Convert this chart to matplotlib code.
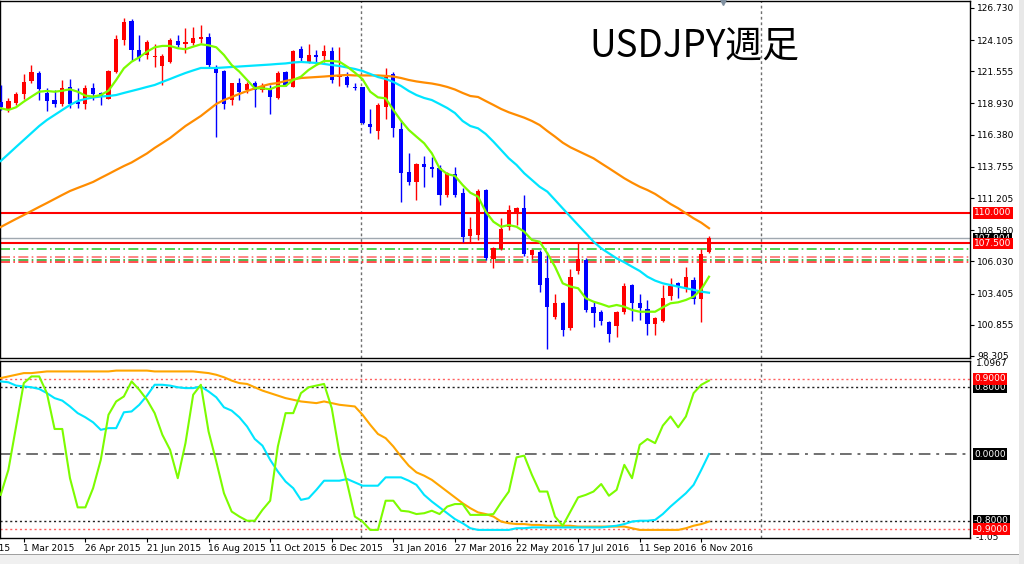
import numpy as np
import matplotlib
matplotlib.use("Agg")
import matplotlib.pyplot as plt
from matplotlib import transforms
from matplotlib.patches import Rectangle

plt.rcParams['font.family'] = ['DejaVu Sans', 'Noto Sans CJK JP']

# weekly USDJPY bars, 8 Feb 2015 .. 13 Nov 2016
opens = [119.05, 118.48, 118.99, 119.70, 120.79, 121.45, 119.76, 119.21, 118.86, 120.30,
         119.05, 118.86, 120.22, 119.76, 119.32, 121.53, 124.12, 125.67, 123.30, 122.89,
         122.73, 122.02, 122.34, 124.06, 123.76, 123.85, 124.17, 124.34, 121.80, 121.61,
         119.21, 120.58, 120.03, 120.63, 120.03, 120.17, 119.40, 121.53, 120.30, 123.36,
         122.29, 122.89, 122.81, 123.22, 121.12, 121.07, 120.30, 120.25, 117.25, 116.71,
         118.62, 121.34, 116.82, 113.36, 112.51, 114.00, 113.77, 113.64, 111.45, 113.17,
         111.64, 108.13, 108.18, 111.86, 106.20, 107.02, 108.82, 110.09, 110.42, 106.55,
         106.82, 104.70, 101.51, 102.61, 100.57, 105.27, 106.15, 102.28, 101.93, 101.11,
         100.76, 101.92, 104.10, 102.61, 102.12, 100.92, 101.19, 103.21, 104.29, 103.75,
         104.51, 103.00, 106.83]
highs = [120.44, 119.35, 119.89, 121.34, 122.05, 121.61, 120.17, 120.00, 120.85, 120.93,
         120.20, 120.44, 120.58, 119.89, 121.65, 124.52, 125.89, 125.85, 124.52, 124.12,
         123.79, 123.00, 124.26, 124.52, 125.07, 125.15, 125.34, 124.66, 122.07, 121.67,
         120.63, 121.00, 120.71, 120.77, 120.58, 120.44, 121.58, 121.58, 123.30, 123.63,
         123.79, 123.30, 123.71, 123.52, 123.57, 121.53, 120.58, 120.30, 118.46, 118.95,
         121.80, 121.53, 117.58, 114.86, 114.05, 114.64, 114.59, 113.91, 113.36, 113.77,
         112.00, 109.68, 111.92, 111.92, 107.18, 109.55, 110.64, 110.45, 111.45, 107.02,
         106.96, 106.82, 103.37, 102.74, 105.40, 107.56, 106.28, 102.74, 102.06, 101.19,
         101.98, 104.24, 104.19, 103.37, 102.88, 101.51, 104.10, 104.65, 104.37, 105.57,
         104.78, 107.02, 108.10]
lows = [118.40, 118.26, 118.81, 119.32, 120.58, 119.21, 118.32, 118.67, 118.73, 118.54,
        118.56, 118.46, 119.21, 118.81, 119.30, 121.45, 123.71, 122.43, 122.43, 122.54,
        121.94, 120.44, 122.21, 123.57, 123.03, 123.71, 123.85, 121.94, 116.17, 118.46,
        118.81, 119.21, 119.76, 118.67, 119.89, 118.07, 119.30, 120.36, 120.25, 122.34,
        122.21, 122.21, 122.34, 120.63, 120.36, 120.30, 120.03, 117.25, 116.54, 116.00,
        117.64, 116.17, 110.91, 112.27, 111.05, 112.13, 112.95, 110.64, 111.32, 111.32,
        107.64, 107.64, 107.78, 106.14, 105.47, 106.96, 108.60, 109.00, 106.47, 106.20,
        103.56, 98.90, 101.30, 99.94, 100.40, 105.00, 101.93, 100.65, 100.84, 99.47,
        99.88, 101.73, 101.19, 101.25, 100.02, 100.02, 101.11, 102.88, 103.01, 103.56,
        102.55, 101.11, 106.74]
closes = [118.64, 119.16, 119.68, 120.71, 121.53, 120.09, 119.16, 118.86, 120.22, 118.86,
          118.90, 120.17, 119.70, 119.48, 121.58, 124.17, 125.61, 123.30, 122.62, 123.93,
          122.81, 122.81, 124.12, 123.71, 123.98, 124.26, 124.34, 122.07, 121.40, 118.89,
          120.58, 119.89, 120.50, 120.03, 120.36, 119.48, 121.45, 120.44, 123.24, 122.62,
          122.89, 122.75, 123.22, 120.85, 121.26, 120.44, 120.17, 117.36, 116.98, 118.81,
          121.12, 116.90, 113.23, 112.54, 114.00, 113.77, 113.60, 111.45, 113.23, 111.45,
          108.05, 108.68, 111.78, 106.28, 107.10, 108.65, 110.23, 110.37, 106.64, 106.96,
          104.10, 102.33, 102.61, 100.43, 104.78, 106.20, 102.06, 101.79, 101.19, 100.10,
          101.86, 104.02, 102.61, 102.20, 100.92, 101.43, 103.02, 104.03, 103.91, 104.75,
          103.00, 106.64, 107.92]

# moving averages
ma_green = [118.54, 118.40, 118.62, 119.08, 119.49, 119.89, 119.95, 119.89, 119.97, 120.09,
            119.89, 119.57, 119.49, 119.62, 119.97, 120.85, 121.80, 122.34, 122.70, 123.16,
            123.52, 123.63, 123.63, 123.44, 123.36, 123.57, 123.76, 123.68, 123.52, 122.89,
            122.07, 121.53, 120.85, 120.17, 120.17, 120.09, 120.36, 120.36, 120.85, 121.12,
            121.67, 122.07, 122.40, 122.40, 122.34, 121.94, 121.45, 120.91, 119.89, 119.43,
            119.35, 118.40, 117.52, 116.77, 116.22, 115.68, 114.86, 113.64, 113.17, 113.01,
            112.27, 111.64, 111.32, 110.09, 109.27, 108.86, 109.00, 108.86, 108.46, 107.78,
            107.64, 106.69, 105.60, 104.24, 103.97, 103.84, 103.02, 102.74, 102.55, 102.33,
            102.47, 102.33, 102.06, 101.92, 101.92, 101.92, 102.28, 102.61, 102.69, 102.88,
            103.15, 103.75, 104.78]
ma_cyan = [114.23, 114.80, 115.38, 115.95, 116.52, 117.09, 117.58, 117.99, 118.40, 118.81,
           119.13, 119.30, 119.42, 119.50, 119.54, 119.62, 119.79, 119.95, 120.11, 120.28,
           120.44, 120.69, 120.93, 121.18, 121.42, 121.63, 121.83, 121.83, 121.83, 121.87,
           121.91, 121.95, 121.99, 122.03, 122.07, 122.11, 122.16, 122.20, 122.28, 122.32,
           122.28, 122.24, 122.16, 122.07, 121.99, 121.87, 121.75, 121.58, 121.34, 121.09,
           120.93, 120.69, 120.36, 119.95, 119.62, 119.38, 119.21, 118.89, 118.56, 118.15,
           117.50, 117.09, 116.90, 116.44, 115.81, 115.13, 114.45, 113.91, 113.23, 112.68,
           112.13, 111.73, 111.05, 110.36, 109.68, 109.00, 108.33, 107.64, 107.10, 106.69,
           106.28, 105.96, 105.60, 105.25, 104.78, 104.46, 104.24, 104.10, 103.97, 103.84,
           103.70, 103.56, 103.47]
ma_orange = [108.84, 109.17, 109.50, 109.82, 110.15, 110.48, 110.80, 111.13, 111.46, 111.78,
             112.03, 112.27, 112.52, 112.85, 113.17, 113.50, 113.82, 114.11, 114.48, 114.85,
             115.30, 115.70, 116.11, 116.60, 117.09, 117.50, 117.91, 118.40, 118.89, 119.21,
             119.46, 119.71, 119.95, 120.16, 120.36, 120.52, 120.60, 120.77, 120.89, 121.01,
             121.05, 121.09, 121.13, 121.18, 121.22, 121.26, 121.22, 121.22, 121.22, 121.22,
             121.18, 121.13, 121.01, 120.85, 120.73, 120.64, 120.56, 120.44, 120.28, 120.07,
             119.79, 119.54, 119.46, 119.13, 118.81, 118.48, 118.21, 117.99, 117.77, 117.50,
             117.17, 116.68, 116.22, 115.73, 115.35, 115.05, 114.75, 114.45, 114.04, 113.64,
             113.23, 112.82, 112.46, 112.13, 111.86, 111.54, 111.13, 110.72, 110.37, 109.96,
             109.55, 109.19, 108.74]

# RCI oscillators (short / mid / long)
rci_green = [-0.49, -0.19, 0.33, 0.85, 0.93, 0.93, 0.73, 0.30, 0.30, -0.29,
             -0.64, -0.64, -0.41, -0.07, 0.47, 0.63, 0.69, 0.87, 0.77, 0.65,
             0.49, 0.23, 0.05, -0.29, 0.13, 0.71, 0.83, 0.27, -0.09, -0.47,
             -0.69, -0.75, -0.80, -0.80, -0.67, -0.56, 0.09, 0.49, 0.49, 0.73,
             0.80, 0.82, 0.84, 0.55, 0.01, -0.35, -0.75, -0.81, -0.91, -0.91,
             -0.56, -0.56, -0.68, -0.69, -0.72, -0.71, -0.68, -0.72, -0.63, -0.60,
             -0.60, -0.73, -0.73, -0.73, -0.72, -0.58, -0.45, -0.04, -0.02, -0.25,
             -0.45, -0.45, -0.75, -0.86, -0.69, -0.52, -0.49, -0.45, -0.36, -0.50,
             -0.43, -0.13, -0.29, 0.11, 0.18, 0.13, 0.34, 0.45, 0.32, 0.45,
             0.73, 0.83, 0.88]
rci_cyan = [0.87, 0.86, 0.82, 0.81, 0.80, 0.78, 0.73, 0.67, 0.64, 0.57,
            0.49, 0.44, 0.38, 0.29, 0.31, 0.31, 0.50, 0.51, 0.59, 0.70,
            0.83, 0.83, 0.82, 0.80, 0.79, 0.79, 0.81, 0.75, 0.68, 0.56,
            0.52, 0.44, 0.33, 0.18, 0.10, -0.07, -0.21, -0.33, -0.41, -0.55,
            -0.53, -0.43, -0.32, -0.32, -0.32, -0.30, -0.34, -0.38, -0.38, -0.38,
            -0.28, -0.28, -0.28, -0.32, -0.37, -0.49, -0.57, -0.64, -0.71, -0.78,
            -0.83, -0.89, -0.91, -0.91, -0.91, -0.91, -0.91, -0.89, -0.89, -0.88,
            -0.88, -0.88, -0.88, -0.88, -0.88, -0.88, -0.88, -0.88, -0.88, -0.87,
            -0.86, -0.84, -0.81, -0.80, -0.80, -0.79, -0.72, -0.63, -0.55, -0.47,
            -0.37, -0.19, 0.00]
rci_orange = [0.91, 0.93, 0.95, 0.97, 0.97, 0.98, 0.99, 0.99, 0.99, 0.99,
              0.99, 0.99, 0.99, 0.99, 0.99, 1.00, 1.00, 1.00, 1.00, 1.00,
              0.99, 0.99, 0.99, 0.99, 0.99, 0.99, 0.98, 0.97, 0.95, 0.92,
              0.88, 0.85, 0.84, 0.80, 0.76, 0.73, 0.70, 0.67, 0.65, 0.63,
              0.62, 0.61, 0.63, 0.61, 0.59, 0.58, 0.57, 0.47, 0.35, 0.24,
              0.19, 0.09, -0.03, -0.14, -0.22, -0.26, -0.31, -0.38, -0.45, -0.52,
              -0.59, -0.65, -0.70, -0.72, -0.75, -0.81, -0.83, -0.84, -0.84, -0.85,
              -0.85, -0.86, -0.86, -0.86, -0.86, -0.87, -0.87, -0.87, -0.87, -0.87,
              -0.87, -0.87, -0.89, -0.91, -0.91, -0.91, -0.91, -0.91, -0.91, -0.89,
              -0.86, -0.84, -0.81]

# date labels (bar index of each label)
date_idx = [-5, 3, 11, 19, 27, 35, 43, 51, 59, 67, 75, 83, 91]
date_labels = ['4 Jan 2015', '1 Mar 2015', '26 Apr 2015', '21 Jun 2015', '16 Aug 2015',
               '11 Oct 2015', '6 Dec 2015', '31 Jan 2016', '27 Mar 2016', '22 May 2016',
               '17 Jul 2016', '11 Sep 2016', '6 Nov 2016']
year_sep = [47, 99]   # first bars of 2016 / 2017

price_ticks = [126.730, 124.105, 121.555, 118.930, 116.380, 113.755,
               111.205, 108.580, 106.030, 103.405, 100.855, 98.305]
level_solid = [110.0, 107.5]
bid = 107.904
level_dashdot = [(107.05, '#33CC33'), (106.40, '#FF7070'), (106.12, '#33AA33'), (105.98, '#FF3030')]
osc_levels = [0.9, 0.8, 0.0, -0.8, -0.9]

W, H = 1024, 564
fig = plt.figure(figsize=(W / 100, H / 100), dpi=100)
fig.patch.set_facecolor('white')
fig.patches.append(Rectangle((0, 0), 1, 9 / H, transform=fig.transFigure, fc='#F0F0F0', ec='none'))
fig.patches.append(Rectangle((0, 9 / H), 1, 1.2 / H, transform=fig.transFigure, fc='#A0A0A0', ec='none'))
fig.patches.append(Rectangle((1019 / W, 0), 5 / W, 1, transform=fig.transFigure, fc='#E8E8E8', ec='none'))

right = 970 / W
ax1 = fig.add_axes([0, 1 - 358 / H, right, 357 / H])
ax2 = fig.add_axes([0, 1 - 538 / H, right, 177 / H])

x = np.arange(len(closes))
xlim = (-0.09, 125.9)

# candles
for i in x:
    o, h, l, c = opens[i], highs[i], lows[i], closes[i]
    col = '#FF0000' if c >= o else '#0000FF'
    ax1.vlines(i, l, h, color=col, lw=1, zorder=3)
    ax1.bar(i, max(abs(c - o), 0.06), bottom=min(o, c), width=0.55, color=col, zorder=4, linewidth=0)

ax1.plot(x, ma_orange, color='#FF8C00', lw=1.6, zorder=5)
ax1.plot(x, ma_cyan, color='#00E5FF', lw=1.6, zorder=5)
ax1.plot(x, ma_green, color='#7CFC00', lw=1.6, zorder=6)

for lv in level_solid:
    ax1.axhline(lv, color='#FF0000', lw=1.5, zorder=2)
ax1.axhline(bid, color='#A0A8B0', lw=1, zorder=2)
for lv, col in level_dashdot:
    ax1.axhline(lv, color=col, lw=1.2, ls=(0, (6, 2, 1, 2)), zorder=2)

ax1.set_xlim(*xlim)
ax1.set_ylim(98.14, 127.30)
ax1.yaxis.tick_right()
ax1.set_yticks(price_ticks)
ax1.set_yticklabels([f"{v:.3f}" for v in price_ticks])
ax1.tick_params(axis='y', direction='out', length=3, width=0.8, labelsize=6.5, pad=2)
ax1.set_xticks([])

tr1 = transforms.blended_transform_factory(ax1.transAxes, ax1.transData)
ax1.text(1.004, bid, f"{bid:.3f}", transform=tr1, color='white', fontsize=6.5, va='center', ha='left',
         bbox=dict(boxstyle='square,pad=0.15', fc='black', ec='none'), clip_on=False, zorder=10)
for lv in level_solid:
    ax1.text(1.004, lv, f"{lv:.3f}", transform=tr1, color='white', fontsize=6.5, va='center', ha='left',
             bbox=dict(boxstyle='square,pad=0.15', fc='#FF0000', ec='none'), clip_on=False, zorder=11)

# oscillator panel
ax2.plot(x, rci_orange, color='#FFA500', lw=1.5, zorder=5)
ax2.plot(x, rci_cyan, color='#00E5FF', lw=1.5, zorder=5)
ax2.plot(x, rci_green, color='#7CFC00', lw=1.5, zorder=6)
for lv in osc_levels:
    if abs(lv) == 0.9:
        ax2.axhline(lv, color='#FF6060', lw=1, ls=(0, (1.5, 2)), zorder=2)
    elif lv == 0:
        ax2.axhline(lv, color='#707070', lw=1.4, ls=(0, (6, 3, 1.5, 3)), zorder=2)
    else:
        ax2.axhline(lv, color='#202020', lw=1, ls=(0, (1.5, 2)), zorder=2)
ax2.set_xlim(*xlim)
ax2.set_ylim(-1.007, 1.115)
ax2.set_yticks([])
ax2.set_xticks([d for d in date_idx if d >= xlim[0]])
ax2.set_xticklabels([])
ax2.tick_params(axis='x', direction='out', length=3, width=0.8)
trd = transforms.blended_transform_factory(ax2.transData, ax2.transAxes)
for d, lab in zip(date_idx, date_labels):
    ax2.text(d - 0.05, -0.035, lab, transform=trd, fontsize=6.5, ha='left', va='top', clip_on=False)

tr2 = transforms.blended_transform_factory(ax2.transAxes, ax2.transData)
ax2.text(1.006, 1.08, "1.0967", transform=tr2, fontsize=6.5, va='center', ha='left', clip_on=False)
ax2.text(1.006, -1.0, "-1.05", transform=tr2, fontsize=6.5, va='center', ha='left', clip_on=False)
for lv in osc_levels:
    fc = '#FF0000' if abs(lv) == 0.9 else 'black'
    ax2.text(1.004, lv, f"{lv:.4f}", transform=tr2, color='white', fontsize=6.5, va='center', ha='left',
             bbox=dict(boxstyle='square,pad=0.15', fc=fc, ec='none'), clip_on=False,
             zorder=11 if abs(lv) == 0.9 else 10)

for ax in (ax1, ax2):
    for s in ax.spines.values():
        s.set_color('black')
        s.set_linewidth(1)
    for xs in year_sep:
        ax.axvline(xs - 0.2, color='#707070', lw=1, ls=(0, (2, 2)), zorder=1)

# chart shift marker
trm = transforms.blended_transform_factory(ax1.transData, ax1.transAxes)
ax1.plot([93.8], [1.0], marker='v', color='#8090A0', ms=6, transform=trm, clip_on=False, zorder=12)

fig.text(589 / W, 1 - 47 / H, "USDJPY週足", fontsize=26.5, family=['Noto Sans CJK JP', 'DejaVu Sans'],
         ha='left', va='center', color='black')

fig.savefig('out.png', dpi=100)
